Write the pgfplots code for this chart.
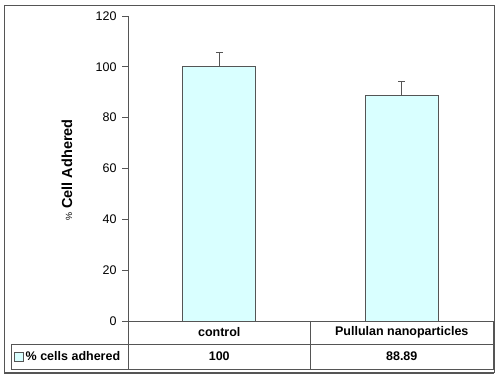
\documentclass[border=0pt]{standalone}
\usepackage{pgfplots}
\pgfplotsset{compat=1.18}
\usepackage{fontspec}
\setmainfont{Liberation Sans}
\definecolor{barfill}{HTML}{D9FFFF}
\definecolor{framegray}{HTML}{555555}
\begin{document}
\begin{tikzpicture}[x=1pt,y=1pt]
\path[use as bounding box] (0,0) rectangle (500,379);
\fill[white] (0,0) rectangle (500,379);
\begin{axis}[
  at={(128pt,58pt)}, anchor=south west,
  scale only axis, width=365pt, height=305pt,
  xmin=-0.5, xmax=1.5, ymin=0, ymax=120,
  ytick={0,20,...,120},
  xtick=\empty,
  axis x line=none,
  axis y line*=left,
  y axis line style={draw=framegray, line width=1pt, -},
  y tick style={draw=framegray, line width=0.8pt},
  tick align=outside, major tick length=6pt,
  /pgf/number format/assume math mode=true,
  yticklabel style={font=\fontsize{12.5}{14}\selectfont, text=black, xshift=-2pt},
  clip=false,
]
\addplot[ybar, bar width=73pt, fill=barfill, draw=framegray, line width=0.8pt,
  error bars/.cd, y dir=plus, y explicit,
  error bar style={draw=framegray, line width=1pt},
  error mark options={draw=framegray, line width=1pt, mark size=3.5pt, rotate=90}]
  coordinates {(0,100) +- (0,5.5) (1,88.89) +- (0,5.3)};
\end{axis}
% y label
\node[rotate=90, inner sep=0pt] at (67,209) {{\fontsize{9}{11}\selectfont\%}\hspace{4pt}{\fontsize{14.5}{17}\selectfont\bfseries Cell Adhered}};
% outer frame
\draw[framegray, line width=0.8pt] (4,374) -- (494,374) -- (494,6);
\draw[framegray, line width=1.6pt] (4.5,374) -- (4.5,6) -- (494,6);
% data table
\draw[framegray, line width=0.8pt] (128,58) -- (493,58) -- (493,10) -- (11,10) -- (11,35) -- (493,35);
\draw[framegray, line width=0.8pt] (128,58) -- (128,10);
\draw[framegray, line width=0.8pt] (310.5,58) -- (310.5,10);
\node[font=\fontsize{12.5}{14}\selectfont\bfseries] at (219.25,46.5) {control};
\node[font=\fontsize{12.5}{14}\selectfont\bfseries] at (401.75,46.5) {Pullulan nanoparticles};
\node[font=\fontsize{12.5}{14}\selectfont\bfseries] at (219.25,22.5) {100};
\node[font=\fontsize{12.5}{14}\selectfont\bfseries] at (401.75,22.5) {88.89};
\draw[framegray, line width=0.6pt, fill=barfill] (14,18) rectangle (23,27);
\node[font=\fontsize{12.5}{14}\selectfont\bfseries, anchor=west, inner sep=0pt] at (25.5,22.5) {\% cells adhered};
\end{tikzpicture}
\end{document}
